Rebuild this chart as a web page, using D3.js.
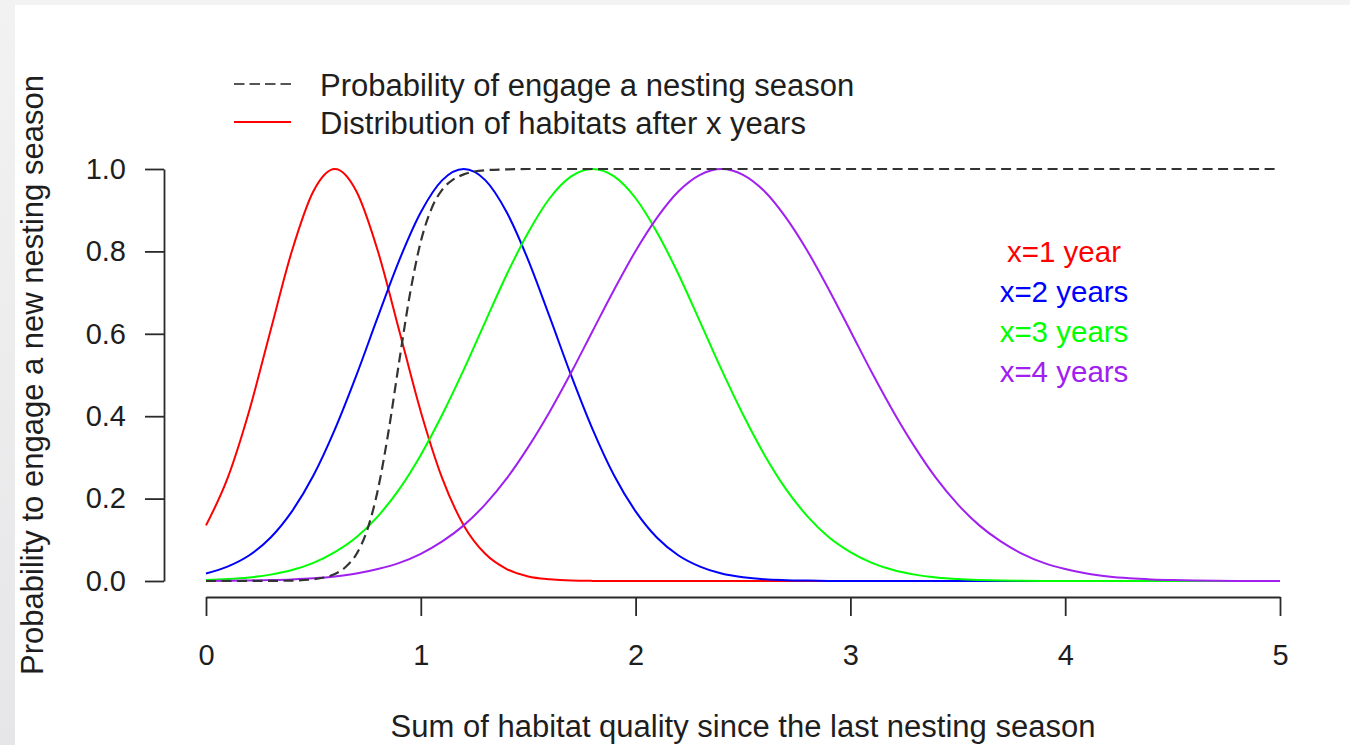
<!DOCTYPE html>
<html>
<head>
<meta charset="utf-8">
<script src="https://cdn.jsdelivr.net/npm/d3@7"></script>
<style>
  html, body { margin: 0; padding: 0; background: #f2f2f2; }
  svg { display: block; }
  text { font-family: "Liberation Sans", Arial, Helvetica, sans-serif; }
</style>
</head>
<body>
<svg id="chart" width="1350" height="745"></svg>
<script>
// Habitat quality grid (x axis) shared by the four distributions
const habitatX = [0,0.1,0.2,0.3,0.4,0.5,0.6,0.7,0.8,0.9,1,1.1,1.2,1.3,1.4,1.5,1.6,1.7,1.8,1.9,2,
  2.1,2.2,2.3,2.4,2.5,2.6,2.7,2.8,2.9,3,3.1,3.2,3.3,3.4,3.5,3.6,3.7,3.8,3.9,4,
  4.1,4.2,4.3,4.4,4.5,4.6,4.7,4.8,4.9,5];

// Distribution of habitats after 1, 2, 3 and 4 years (scaled to a peak of 1)
const year1 = [0.135,0.249,0.411,0.607,0.801,0.946,1,0.946,0.801,0.607,0.411,0.249,0.135,0.066,0.029,0.011,0.004,0.001,0.0003,0.0001,0,
  0,0,0,0,0,0,0,0,0,0,0,0,0,0,0,0,0,0,0,0,0,0,0,0,0,0,0,0,0,0];
const year2 = [0.018,0.035,0.062,0.105,0.169,0.256,0.368,0.499,0.641,0.779,0.895,0.973,1,0.973,0.895,0.779,0.641,0.499,0.368,0.256,0.169,
  0.105,0.062,0.035,0.018,0.009,0.004,0.002,0.001,0.0003,0.0001,0,0,0,0,0,0,0,0,0,0,0,0,0,0,0,0,0,0,0,0];
const year3 = [0.0025,0.0047,0.0087,0.0155,0.0265,0.044,0.070,0.106,0.157,0.223,0.306,0.404,0.513,0.629,0.744,0.846,0.929,0.982,1,0.982,0.929,
  0.846,0.744,0.629,0.513,0.404,0.306,0.223,0.157,0.106,0.070,0.044,0.0265,0.0155,0.0087,0.0047,0.0025,0.0012,0.0006,0.0003,0.0001,
  0,0,0,0,0,0,0,0,0,0];
const year4 = [0.0003,0.0006,0.0012,0.0022,0.0039,0.0066,0.011,0.018,0.029,0.044,0.066,0.096,0.135,0.186,0.249,0.325,0.411,0.506,0.607,0.707,0.801,
  0.882,0.946,0.986,1,0.986,0.946,0.882,0.801,0.707,0.607,0.506,0.411,0.325,0.249,0.186,0.135,0.096,0.066,0.044,0.029,
  0.018,0.011,0.0066,0.0039,0.0022,0.0012,0.0006,0.0003,0.0002,0.0001];

// Probability of engaging a nesting season
const engageX = [0,0.1,0.2,0.3,0.4,0.5,0.55,0.6,0.65,0.7,0.75,0.8,0.85,0.9,0.95,1,1.05,1.1,1.15,1.2,1.3,1.4,1.5,2,3,4,5];
const engageP = [0,0,0.0001,0.0003,0.001,0.0042,0.0085,0.017,0.034,0.065,0.123,0.221,0.364,0.535,0.698,0.824,0.904,0.950,0.974,0.987,0.997,0.999,1,1,1,1,1];

const seriesNames = ["x=1 year", "x=2 years", "x=3 years", "x=4 years"];
const seriesColors = ["#ff0000", "#0000ff", "#00ff00", "#a020f0"];
const seriesValues = [year1, year2, year3, year4];

const xTicks = [0, 1, 2, 3, 4, 5];
const yTicks = [0, 0.2, 0.4, 0.6, 0.8, 1.0];

const legendLabels = ["Probability of engage a nesting season", "Distribution of habitats after x years"];
const xTitle = "Sum of habitat quality since the last nesting season";
const yTitle = "Probability to engage a new nesting season";

const svg = d3.select("#chart");
const TICK_FONT = 29;
const TITLE_FONT = 31;
const INK = "#1e1e1e";

// page backdrop: light grey frame with a white panel
const defs = svg.append("defs");
const grad = defs.append("linearGradient").attr("id", "edge").attr("x1", 0).attr("y1", 0).attr("x2", 0).attr("y2", 1);
grad.append("stop").attr("offset", "0%").attr("stop-color", "#f2f2f2");
grad.append("stop").attr("offset", "100%").attr("stop-color", "#e6e6e8");
svg.append("rect").attr("x", 0).attr("y", 0).attr("width", 1350).attr("height", 745).attr("fill", "#f3f3f3");
svg.append("rect").attr("x", 0).attr("y", 0).attr("width", 15).attr("height", 745).attr("fill", "url(#edge)");
svg.append("rect").attr("x", 15).attr("y", 5).attr("width", 1335).attr("height", 740).attr("fill", "#ffffff");

const x = d3.scaleLinear().domain([0, 5]).range([206, 1280]);
const y = d3.scaleLinear().domain([0, 1]).range([581, 169]);

// axes
const yAxis = svg.append("g")
  .attr("transform", "translate(164,0)")
  .call(d3.axisLeft(y).tickValues(yTicks).tickFormat(d3.format(".1f")).tickSize(19).tickSizeOuter(0).tickPadding(19));
const xAxis = svg.append("g")
  .attr("transform", "translate(0,597)")
  .call(d3.axisBottom(x).tickValues(xTicks).tickFormat(d3.format("d")).tickSize(19).tickSizeOuter(0).tickPadding(28));
[yAxis, xAxis].forEach(g => {
  g.attr("font-size", TICK_FONT).attr("font-family", null);
  g.selectAll("path, line").attr("stroke", "#2a2a2a").attr("stroke-width", 1.8);
  g.selectAll("text").attr("fill", INK);
});

// distribution curves
const line = d3.line()
  .x((d, i) => x(habitatX[i]))
  .y(d => y(d))
  .curve(d3.curveMonotoneX);

svg.append("g").selectAll("path.dist")
  .data(seriesValues)
  .join("path")
  .attr("class", "dist")
  .attr("d", d => line(d))
  .attr("fill", "none")
  .attr("stroke", (d, i) => seriesColors[i])
  .attr("stroke-width", 2);

// engagement probability (dashed)
const engageLine = d3.line()
  .x((d, i) => x(engageX[i]))
  .y(d => y(d))
  .curve(d3.curveMonotoneX);
svg.append("path")
  .attr("d", engageLine(engageP))
  .attr("fill", "none")
  .attr("stroke", "#333")
  .attr("stroke-width", 2.2)
  .attr("stroke-dasharray", "10,5.5");

// series labels
svg.append("g").selectAll("text")
  .data(seriesNames)
  .join("text")
  .attr("x", 1064)
  .attr("y", (d, i) => 262 + i * 40)
  .attr("text-anchor", "middle")
  .attr("font-size", 29.5)
  .attr("fill", (d, i) => seriesColors[i])
  .text(d => d);

// legend
const legend = svg.append("g");
legend.append("line").attr("x1", 234).attr("x2", 291).attr("y1", 84).attr("y2", 84)
  .attr("stroke", "#555").attr("stroke-width", 2.2).attr("stroke-dasharray", "10.5,5");
legend.append("line").attr("x1", 234).attr("x2", 291).attr("y1", 122).attr("y2", 122)
  .attr("stroke", "#ff0000").attr("stroke-width", 2);
legend.selectAll("text")
  .data(legendLabels)
  .join("text")
  .attr("x", 320)
  .attr("y", (d, i) => 96 + i * 38)
  .attr("font-size", TITLE_FONT)
  .attr("fill", INK)
  .text(d => d);

// axis titles
svg.append("text")
  .attr("x", 743).attr("y", 737)
  .attr("text-anchor", "middle")
  .attr("font-size", TITLE_FONT)
  .attr("fill", INK)
  .text(xTitle);
svg.append("text")
  .attr("transform", "translate(43,375) rotate(-90)")
  .attr("text-anchor", "middle")
  .attr("font-size", TITLE_FONT)
  .attr("fill", INK)
  .text(yTitle);
</script>
</body>
</html>
